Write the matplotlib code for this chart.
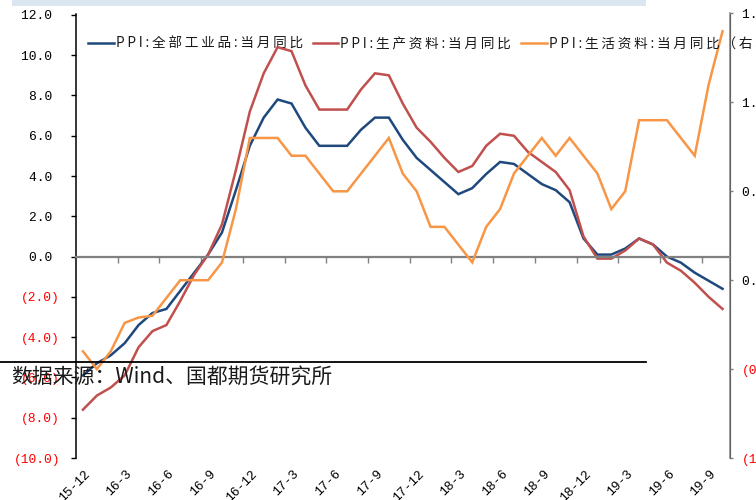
import matplotlib
matplotlib.use("Agg")
import matplotlib.pyplot as plt
from matplotlib.lines import Line2D
from matplotlib.patches import Rectangle
from matplotlib.ticker import FuncFormatter
import numpy as np
import pandas as pd

plt.rcParams["font.family"] = ["Noto Sans CJK SC", "DejaVu Sans"]

# monthly PPI, year-on-year (%), 2015-12 .. 2019-10
months = pd.period_range("2015-12", "2019-10", freq="M")
month_labels = [f"{p.year % 100}-{p.month}" for p in months]

ppi_all = [-5.9,
           -5.3, -4.9, -4.3, -3.4, -2.8, -2.6, -1.7, -0.8, 0.1, 1.2, 3.3, 5.5,
           6.9, 7.8, 7.6, 6.4, 5.5, 5.5, 5.5, 6.3, 6.9, 6.9, 5.8, 4.9,
           4.3, 3.7, 3.1, 3.4, 4.1, 4.7, 4.6, 4.1, 3.6, 3.3, 2.7, 0.9,
           0.1, 0.1, 0.4, 0.9, 0.6, 0.0, -0.3, -0.8, -1.2, -1.6]
ppi_producer = [-7.6,
                -6.9, -6.5, -5.9, -4.5, -3.7, -3.4, -2.2, -0.9, 0.1, 1.6, 4.3, 7.2,
                9.1, 10.4, 10.2, 8.5, 7.3, 7.3, 7.3, 8.3, 9.1, 9.0, 7.6, 6.4,
                5.7, 4.9, 4.2, 4.5, 5.5, 6.1, 6.0, 5.2, 4.7, 4.2, 3.3, 1.0,
                -0.1, -0.1, 0.3, 0.9, 0.6, -0.3, -0.7, -1.3, -2.0, -2.6]
ppi_consumer = [-0.4,
                -0.5, -0.4, -0.24, -0.21, -0.2, -0.1, 0.0, 0.0, 0.0, 0.1, 0.4, 0.8,
                0.8, 0.8, 0.7, 0.7, 0.6, 0.5, 0.5, 0.6, 0.7, 0.8, 0.6, 0.5,
                0.3, 0.3, 0.2, 0.1, 0.3, 0.4, 0.6, 0.7, 0.8, 0.7, 0.8, 0.7,
                0.6, 0.4, 0.5, 0.9, 0.9, 0.9, 0.8, 0.7, 1.1, 1.4]

series_names = ["PPI:全部工业品:当月同比", "PPI:生产资料:当月同比",
                "PPI:生活资料:当月同比（右轴）"]
colors = ["#1F497D", "#C0504D", "#F79646"]

left_ticks = np.arange(-10, 12.1, 2)
right_ticks = np.arange(-1.0, 1.51, 0.5)

W, H = 756, 500
fig = plt.figure(figsize=(W / 100, H / 100), dpi=100)
ax = fig.add_axes([76 / W, (H - 458) / H, (729.5 - 76) / W, (458 - 13.5) / H])
ax2 = ax.twinx()

x = np.arange(len(months))
ax.plot(x, ppi_all, color=colors[0], lw=1.8, solid_joinstyle="miter")
ax.plot(x, ppi_producer, color=colors[1], lw=1.8, solid_joinstyle="miter")
ax2.plot(x, ppi_consumer, color=colors[2], lw=1.8, solid_joinstyle="miter")

ax.set_xlim(-0.5, len(months) - 0.5)
ax.set_ylim(-10, 12.07)
ax2.set_ylim(-1.0, 1.5)


def paren_fmt(v, pos):
    # accounting style: negatives in brackets, positives padded to line up
    return f"({abs(v):.1f})" if v < -1e-9 else f"{abs(v):.1f} "


tick_family, tick_size = "Liberation Mono", 9.4

ax.set_yticks(left_ticks)
ax.yaxis.set_major_formatter(FuncFormatter(paren_fmt))
ax.tick_params(axis="y", direction="out", length=3.6, width=1, pad=8)
for t, v in zip(ax.yaxis.get_major_ticks(), left_ticks):
    t.label1.set_fontfamily(tick_family)
    t.label1.set_fontsize(tick_size)
    t.label1.set_color("#FF0000" if v < 0 else "#000000")

ax2.set_yticks(right_ticks)
ax2.yaxis.set_major_formatter(FuncFormatter(paren_fmt))
ax2.tick_params(axis="y", direction="out", length=2.5, width=1, color="#808080", pad=6.6)
for t, v in zip(ax2.yaxis.get_major_ticks(), right_ticks):
    t.label2.set_fontfamily(tick_family)
    t.label2.set_fontsize(tick_size)
    t.label2.set_color("#FF0000" if v < 0 else "#000000")

# category axis sits on the zero line, ticks between every third month
ax.spines["bottom"].set_position(("data", 0))
ax.spines["bottom"].set_color("#808080")
ax.spines["bottom"].set_linewidth(1.6)
ax.set_xticks(np.arange(2.5, len(months) - 1, 3))
ax.tick_params(axis="x", direction="out", length=4, width=1, color="#808080",
               labelbottom=False)
for a in (ax, ax2):
    a.spines["top"].set_visible(False)
ax.spines["left"].set_linewidth(1.1)
ax2.spines["left"].set_visible(False)
ax2.spines["bottom"].set_visible(False)
ax2.spines["right"].set_color("#808080")
ax2.spines["right"].set_linewidth(1.1)

for i in range(0, len(months), 3):
    ax.text(i + 0.1, -0.022, month_labels[i], transform=ax.get_xaxis_transform(),
            rotation=45, rotation_mode="anchor", ha="right", va="top",
            fontfamily="Liberation Mono", fontsize=9.4, color="#000000")


def spaced(s):
    return "\u2009".join(s)


handles = [Line2D([], [], color=c, lw=1.8) for c in colors]
fig.legend(handles, [spaced(n) for n in series_names], loc="center left",
           bbox_to_anchor=(88 / W, 1 - 44 / H), ncol=3, frameon=False,
           fontsize=9.8, handlelength=1.9, handletextpad=0.15,
           columnspacing=0.7, borderaxespad=0, borderpad=0,
           labelcolor="#1a1a1a")

# report page elements around the chart
fig.add_artist(Rectangle((12 / W, 1 - 6 / H), (646 - 12) / W, 6 / H,
                         transform=fig.transFigure, color="#DCE6F1", lw=0))
fig.add_artist(Line2D([0, 646 / W], [1 - 362 / H] * 2, transform=fig.transFigure,
                      color="black", lw=1.3))
fig.text(11 / W, 1 - 377 / H, "数据来源：Wind、国都期货研究所", fontsize=15,
         va="center", ha="left", color="#1a1a1a")

fig.savefig("out.png", dpi=100)
